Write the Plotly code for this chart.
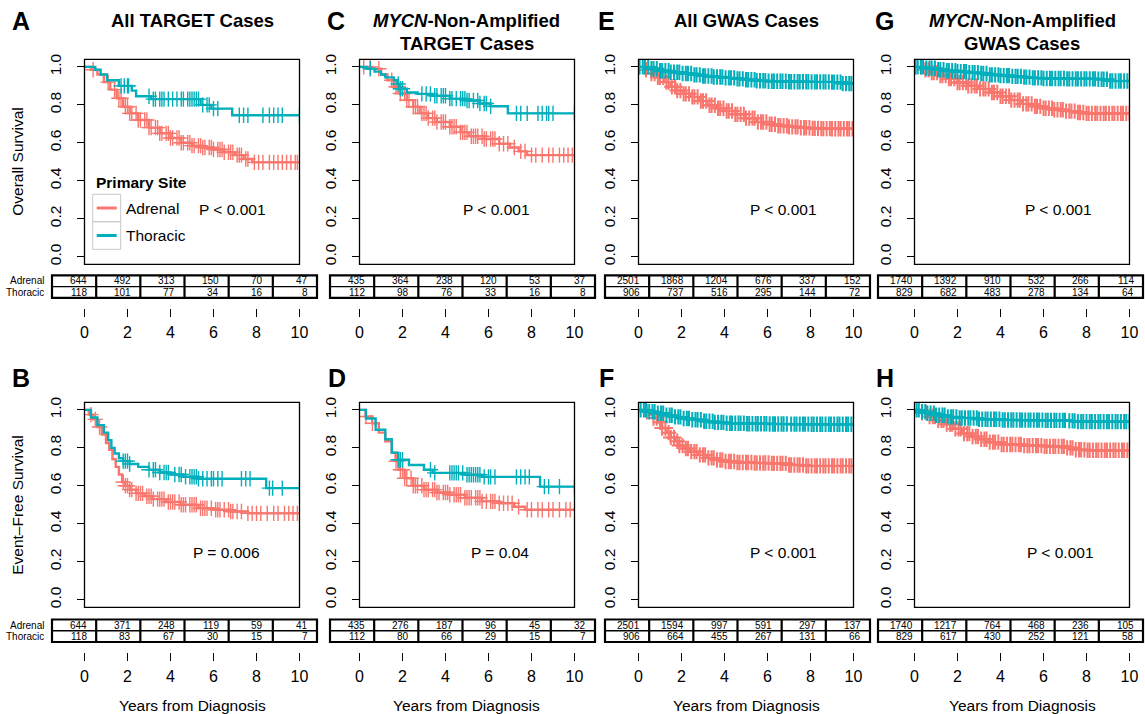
import numpy as np
import plotly.graph_objects as go

W, H = 1145, 714
FONT = "Liberation Sans, Arial, Helvetica, sans-serif"
RED = "#F8766D"
TEAL = "#00AFBB"

years = [0, 2, 4, 6, 8, 10]
year_labels = ["0", "2", "4", "6", "8", "10"]
surv_ticks = [0.0, 0.2, 0.4, 0.6, 0.8, 1.0]
surv_labels = ["0.0", "0.2", "0.4", "0.6", "0.8", "1.0"]
groups = ["Adrenal", "Thoracic"]

# ---------------- Panel A : OS, all TARGET ----------------
A_ad_t = [0, 0.3, 0.6, 0.9, 1.2, 1.5, 1.8, 2.1, 2.5, 3.0, 3.5, 4.0, 4.5, 5.0, 5.5, 6.0, 6.5, 7.0, 7.4, 7.8, 10]
A_ad_s = [1.0, 0.985, 0.96, 0.92, 0.88, 0.835, 0.79, 0.755, 0.72, 0.68, 0.65, 0.625, 0.60, 0.585, 0.575, 0.565, 0.55, 0.535, 0.515, 0.497, 0.497]
A_ad_c = [0.4, 1.1, 1.4, 1.6, 1.7, 1.9, 2.0, 2.1, 2.2, 2.4, 2.5, 2.6, 2.8, 2.9, 3.0, 3.1, 3.3, 3.4, 3.5, 3.6, 3.8, 3.9, 4.0, 4.1, 4.3, 4.4, 4.5, 4.6, 4.8, 4.9, 5.0, 5.1, 5.3, 5.4, 5.5, 5.6, 5.8, 5.9, 6.0, 6.2, 6.3, 6.4, 6.5, 6.7, 6.8, 6.9, 7.1, 7.2, 7.3, 7.5, 7.6, 7.9, 8.1, 8.3, 8.6, 8.8, 9.0, 9.2, 9.4, 9.6, 9.8, 9.9]
A_th_t = [0, 0.5, 0.75, 1.05, 1.6, 2.2, 2.4, 3.1, 5.4, 5.9, 6.87, 10]
A_th_s = [1.0, 0.985, 0.96, 0.93, 0.90, 0.875, 0.845, 0.83, 0.80, 0.78, 0.745, 0.745]
A_th_c = [1.7, 1.85, 2.0, 2.05, 3.0, 3.2, 3.3, 3.5, 3.6, 3.7, 3.9, 4.1, 4.3, 4.5, 4.6, 4.8, 4.9, 5.0, 5.1, 5.2, 5.3, 5.5, 5.7, 5.8, 6.0, 6.2, 7.2, 7.4, 7.6, 8.3, 8.6, 8.8, 9.0, 9.2, 10.0]
A_risk_ad = [644, 492, 313, 150, 70, 47]
A_risk_th = [118, 101, 77, 34, 16, 8]

# ---------------- Panel B : EFS, all TARGET ----------------
B_ad_t = [0, 0.2, 0.4, 0.6, 0.8, 1.0, 1.15, 1.3, 1.45, 1.6, 1.75, 1.9, 2.1, 2.4, 2.8, 3.2, 3.8, 4.5, 5.3, 6.0, 6.8, 7.6, 10]
B_ad_s = [1.0, 0.975, 0.95, 0.91, 0.87, 0.825, 0.79, 0.74, 0.70, 0.66, 0.62, 0.60, 0.58, 0.56, 0.545, 0.53, 0.515, 0.50, 0.482, 0.474, 0.465, 0.455, 0.455]
B_ad_c = [0.3, 0.5, 0.7, 1.8, 1.9, 2.0, 2.1, 2.2, 2.4, 2.5, 2.6, 2.7, 2.9, 3.0, 3.1, 3.2, 3.4, 3.5, 3.6, 3.7, 3.9, 4.0, 4.1, 4.2, 4.4, 4.5, 4.6, 4.7, 4.9, 5.0, 5.1, 5.2, 5.4, 5.5, 5.6, 5.7, 5.9, 6.1, 6.2, 6.3, 6.5, 6.7, 6.8, 6.9, 7.1, 7.3, 7.6, 7.8, 8.0, 8.2, 8.5, 8.8, 9.0, 9.3, 9.5, 9.7, 9.9]
B_th_t = [0, 0.3, 0.6, 0.9, 1.1, 1.25, 1.4, 1.6, 1.8, 2.1, 2.5, 3.0, 3.5, 4.0, 4.6, 5.3, 8.45, 10]
B_th_s = [1.0, 0.96, 0.92, 0.88, 0.84, 0.80, 0.77, 0.745, 0.73, 0.715, 0.70, 0.685, 0.67, 0.66, 0.648, 0.637, 0.588, 0.588]
B_th_c = [1.8, 1.9, 2.0, 2.1, 3.0, 3.2, 3.3, 3.5, 3.7, 3.8, 3.9, 4.2, 4.4, 4.5, 4.7, 4.9, 5.0, 5.1, 5.2, 5.3, 5.5, 5.7, 5.9, 6.0, 6.2, 6.4, 7.3, 7.5, 7.7, 8.6, 8.75, 9.2, 10.0]
B_risk_ad = [644, 371, 248, 119, 59, 41]
B_risk_th = [118, 83, 67, 30, 15, 7]

# ---------------- Panel C : OS, MYCN-NA TARGET ----------------
C_ad_t = [0, 0.6, 1.0, 1.3, 1.6, 1.9, 2.2, 2.5, 2.8, 3.2, 3.6, 4.2, 4.7, 5.1, 5.8, 6.5, 7.0, 7.4, 7.8, 10]
C_ad_s = [1.0, 0.99, 0.96, 0.93, 0.895, 0.86, 0.825, 0.79, 0.755, 0.73, 0.71, 0.685, 0.655, 0.635, 0.62, 0.595, 0.575, 0.555, 0.535, 0.535]
C_ad_c = [0.2, 0.5, 0.9, 1.5, 1.7, 1.8, 1.9, 2.1, 2.2, 2.3, 2.5, 2.6, 2.7, 2.9, 3.0, 3.1, 3.2, 3.4, 3.5, 3.6, 3.8, 3.9, 4.0, 4.2, 4.3, 4.4, 4.5, 4.7, 4.8, 4.9, 5.0, 5.2, 5.3, 5.4, 5.5, 5.7, 5.8, 5.9, 6.1, 6.2, 6.3, 6.5, 6.7, 6.9, 7.2, 7.5, 7.7, 8.0, 8.2, 8.5, 8.8, 9.0, 9.3, 9.5, 9.7, 9.9]
C_th_t = [0, 0.35, 0.7, 1.0, 1.2, 1.6, 1.75, 1.9, 2.2, 2.7, 3.4, 4.2, 5.0, 5.6, 6.1, 6.9, 10]
C_th_s = [1.0, 0.99, 0.975, 0.96, 0.945, 0.93, 0.91, 0.885, 0.865, 0.858, 0.848, 0.833, 0.823, 0.807, 0.793, 0.755, 0.755]
C_th_c = [0.5, 1.8, 1.9, 2.0, 2.9, 3.1, 3.3, 3.5, 3.6, 3.8, 3.9, 4.0, 4.2, 4.3, 4.5, 4.7, 4.8, 4.9, 5.0, 5.1, 5.3, 5.5, 5.6, 5.8, 5.9, 6.1, 7.3, 7.5, 7.8, 8.3, 8.5, 8.7, 8.8, 9.0, 10.0]
C_risk_ad = [435, 364, 238, 120, 53, 37]
C_risk_th = [112, 98, 76, 33, 16, 8]

# ---------------- Panel D : EFS, MYCN-NA TARGET ----------------
D_ad_t = [0, 0.28, 0.59, 0.9, 1.2, 1.5, 1.68, 1.83, 2.1, 2.5, 3.0, 3.6, 4.2, 4.9, 5.7, 6.5, 7.2, 7.7, 10]
D_ad_s = [1.0, 0.965, 0.93, 0.88, 0.835, 0.775, 0.73, 0.685, 0.64, 0.60, 0.58, 0.565, 0.553, 0.537, 0.518, 0.508, 0.49, 0.474, 0.474]
D_ad_c = [0.3, 0.6, 1.7, 1.8, 1.9, 2.0, 2.1, 2.2, 2.4, 2.5, 2.6, 2.7, 2.9, 3.0, 3.1, 3.2, 3.4, 3.5, 3.6, 3.7, 3.9, 4.0, 4.1, 4.2, 4.4, 4.5, 4.6, 4.7, 4.9, 5.0, 5.1, 5.2, 5.4, 5.5, 5.6, 5.7, 5.9, 6.1, 6.2, 6.3, 6.5, 6.7, 6.9, 7.1, 7.4, 7.8, 8.0, 8.3, 8.5, 8.8, 9.0, 9.3, 9.6, 9.8]
D_th_t = [0, 0.3, 0.75, 1.2, 1.5, 1.8, 2.3, 3.0, 3.4, 4.9, 5.7, 8.4, 10]
D_th_s = [1.0, 0.955, 0.895, 0.845, 0.775, 0.737, 0.71, 0.685, 0.668, 0.658, 0.647, 0.596, 0.596]
D_th_c = [1.8, 1.9, 2.0, 3.3, 3.5, 4.2, 4.3, 4.4, 4.5, 4.6, 4.8, 5.0, 5.1, 5.2, 5.3, 5.4, 5.5, 5.6, 5.8, 6.0, 6.1, 6.3, 7.3, 7.5, 7.7, 7.9, 8.6, 8.8, 9.3, 10.0]
D_risk_ad = [435, 276, 187, 96, 45, 32]
D_risk_th = [112, 80, 66, 29, 15, 7]

# ---------------- Panel E : OS, all GWAS ----------------
E_ad_t = [0, 0.3, 0.6, 0.9, 1.2, 1.5, 1.8, 2.1, 2.4, 2.8, 3.2, 3.6, 4.0, 4.5, 5.0, 5.5, 6.0, 6.5, 7.0, 7.5, 8.0, 8.5, 9.0, 10]
E_ad_s = [1.0, 0.985, 0.965, 0.945, 0.92, 0.895, 0.875, 0.858, 0.842, 0.82, 0.798, 0.782, 0.768, 0.75, 0.73, 0.71, 0.698, 0.69, 0.684, 0.679, 0.676, 0.675, 0.674, 0.674]
E_ad_c = [0.35, 0.6, 0.75, 0.9, 1.0, 1.15, 1.3, 1.4, 1.55, 1.7, 1.8, 1.95, 2.1, 2.2, 2.35, 2.5, 2.6, 2.75, 2.9, 3.0, 3.15, 3.3, 3.4, 3.55, 3.7, 3.8, 3.95, 4.1, 4.2, 4.35, 4.5, 4.6, 4.75, 4.9, 5.0, 5.15, 5.3, 5.4, 5.55, 5.7, 5.8, 5.95, 6.1, 6.2, 6.35, 6.5, 6.6, 6.75, 6.9, 7.0, 7.15, 7.3, 7.4, 7.55, 7.7, 7.8, 7.95, 8.1, 8.2, 8.35, 8.5, 8.6, 8.75, 8.9, 9.0, 9.15, 9.3, 9.4, 9.55, 9.7, 9.8, 9.95]
E_th_t = [0, 0.5, 1.0, 1.5, 2.0, 2.5, 3.0, 3.5, 4.0, 4.5, 5.0, 5.5, 6.0, 7.0, 8.0, 9.0, 9.5, 10]
E_th_s = [1.0, 0.99, 0.98, 0.972, 0.965, 0.958, 0.952, 0.947, 0.942, 0.937, 0.932, 0.927, 0.924, 0.922, 0.921, 0.92, 0.912, 0.912]
E_th_c = [0.05, 0.2, 0.3, 0.45, 0.6, 0.7, 0.85, 1.0, 1.1, 1.25, 1.4, 1.5, 1.65, 1.8, 1.9, 2.05, 2.2, 2.3, 2.45, 2.6, 2.7, 2.85, 3.0, 3.1, 3.25, 3.4, 3.5, 3.65, 3.8, 3.9, 4.05, 4.2, 4.3, 4.45, 4.6, 4.7, 4.85, 5.0, 5.1, 5.25, 5.4, 5.5, 5.65, 5.8, 5.9, 6.05, 6.2, 6.3, 6.45, 6.6, 6.7, 6.85, 7.0, 7.1, 7.25, 7.4, 7.5, 7.65, 7.8, 7.9, 8.05, 8.2, 8.3, 8.45, 8.6, 8.7, 8.85, 9.0, 9.1, 9.25, 9.4, 9.5, 9.65, 9.8, 9.9]
E_risk_ad = [2501, 1868, 1204, 676, 337, 152]
E_risk_th = [906, 737, 516, 295, 144, 72]

# ---------------- Panel F : EFS, all GWAS ----------------
F_ad_t = [0, 0.3, 0.5, 0.7, 0.9, 1.1, 1.3, 1.5, 1.7, 1.9, 2.1, 2.4, 2.8, 3.2, 3.6, 4.0, 4.6, 5.4, 6.2, 7.0, 7.7, 10]
F_ad_s = [1.0, 0.99, 0.975, 0.957, 0.935, 0.905, 0.88, 0.855, 0.835, 0.812, 0.797, 0.78, 0.763, 0.747, 0.736, 0.728, 0.723, 0.72, 0.718, 0.71, 0.705, 0.705]
F_ad_c = [0.4, 0.7, 0.85, 1.0, 1.1, 1.25, 1.4, 1.5, 1.65, 1.8, 1.9, 2.05, 2.2, 2.3, 2.45, 2.6, 2.7, 2.85, 3.0, 3.1, 3.25, 3.4, 3.5, 3.65, 3.8, 3.9, 4.05, 4.2, 4.3, 4.45, 4.6, 4.7, 4.85, 5.0, 5.1, 5.25, 5.4, 5.5, 5.65, 5.8, 5.9, 6.05, 6.2, 6.3, 6.45, 6.6, 6.7, 6.85, 7.0, 7.1, 7.25, 7.4, 7.5, 7.65, 7.8, 7.9, 8.05, 8.2, 8.3, 8.45, 8.6, 8.7, 8.85, 9.0, 9.1, 9.25, 9.4, 9.5, 9.65, 9.8, 9.9]
F_th_t = [0, 0.4, 0.8, 1.2, 1.6, 2.0, 2.5, 3.0, 3.5, 4.0, 5.0, 6.0, 7.0, 8.0, 10]
F_th_s = [1.0, 0.99, 0.982, 0.972, 0.963, 0.955, 0.948, 0.94, 0.934, 0.93, 0.927, 0.926, 0.925, 0.924, 0.924]
F_th_c = [0.1, 0.25, 0.35, 0.5, 0.65, 0.75, 0.9, 1.05, 1.15, 1.3, 1.45, 1.55, 1.7, 1.85, 1.95, 2.1, 2.25, 2.35, 2.5, 2.65, 2.75, 2.9, 3.05, 3.15, 3.3, 3.45, 3.55, 3.7, 3.85, 3.95, 4.1, 4.25, 4.35, 4.5, 4.65, 4.75, 4.9, 5.05, 5.15, 5.3, 5.45, 5.55, 5.7, 5.85, 5.95, 6.1, 6.25, 6.35, 6.5, 6.65, 6.75, 6.9, 7.1, 7.25, 7.35, 7.5, 7.65, 7.75, 7.9, 8.05, 8.15, 8.3, 8.45, 8.55, 8.7, 8.85, 8.95, 9.1, 9.25, 9.35, 9.5, 9.65, 9.75, 9.9]
F_risk_ad = [2501, 1594, 997, 591, 297, 137]
F_risk_th = [906, 664, 455, 267, 131, 66]

# ---------------- Panel G : OS, MYCN-NA GWAS ----------------
G_ad_t = [0, 0.4, 0.8, 1.2, 1.6, 2.0, 2.5, 3.0, 3.5, 4.0, 4.5, 5.0, 5.5, 6.0, 6.5, 7.0, 7.5, 8.0, 10]
G_ad_s = [1.0, 0.985, 0.97, 0.955, 0.938, 0.918, 0.9, 0.884, 0.865, 0.845, 0.825, 0.805, 0.792, 0.782, 0.774, 0.767, 0.76, 0.755, 0.755]
G_ad_c = [0.3, 0.5, 0.65, 0.8, 0.9, 1.05, 1.2, 1.3, 1.45, 1.6, 1.7, 1.85, 2.0, 2.1, 2.25, 2.4, 2.5, 2.65, 2.8, 2.9, 3.05, 3.2, 3.3, 3.45, 3.6, 3.7, 3.85, 4.0, 4.1, 4.25, 4.4, 4.5, 4.65, 4.8, 4.9, 5.05, 5.2, 5.3, 5.45, 5.6, 5.7, 5.85, 6.0, 6.1, 6.25, 6.4, 6.5, 6.65, 6.8, 6.9, 7.05, 7.2, 7.3, 7.45, 7.6, 7.7, 7.85, 8.0, 8.1, 8.25, 8.4, 8.5, 8.65, 8.8, 8.9, 9.05, 9.2, 9.3, 9.45, 9.6, 9.7, 9.85, 10.0]
G_th_t = [0, 0.5, 1.0, 1.5, 2.0, 2.5, 3.0, 3.5, 4.0, 4.5, 5.0, 5.5, 6.0, 7.0, 8.5, 9.0, 10]
G_th_s = [1.0, 0.993, 0.985, 0.98, 0.975, 0.97, 0.965, 0.958, 0.954, 0.95, 0.946, 0.942, 0.939, 0.937, 0.935, 0.926, 0.926]
G_th_c = [0.05, 0.15, 0.3, 0.4, 0.55, 0.7, 0.8, 0.95, 1.1, 1.2, 1.35, 1.5, 1.6, 1.75, 1.9, 2.0, 2.15, 2.3, 2.4, 2.55, 2.7, 2.8, 2.95, 3.1, 3.2, 3.35, 3.5, 3.6, 3.75, 3.9, 4.0, 4.15, 4.3, 4.4, 4.55, 4.7, 4.8, 4.95, 5.1, 5.2, 5.35, 5.5, 5.6, 5.75, 5.9, 6.0, 6.15, 6.3, 6.4, 6.55, 6.7, 6.8, 6.95, 7.1, 7.2, 7.35, 7.5, 7.6, 7.75, 7.9, 8.0, 8.15, 8.3, 8.4, 8.55, 8.7, 8.8, 8.95, 9.1, 9.2, 9.35, 9.5, 9.6, 9.75, 9.9]
G_risk_ad = [1740, 1392, 910, 532, 266, 114]
G_risk_th = [829, 682, 483, 278, 134, 64]

# ---------------- Panel H : EFS, MYCN-NA GWAS ----------------
H_ad_t = [0, 0.3, 0.6, 1.0, 1.4, 1.8, 2.2, 2.6, 3.0, 3.5, 4.0, 5.0, 6.0, 7.0, 7.5, 8.0, 10]
H_ad_s = [1.0, 0.985, 0.965, 0.945, 0.925, 0.9, 0.875, 0.86, 0.845, 0.83, 0.818, 0.812, 0.808, 0.8, 0.79, 0.787, 0.787]
H_ad_c = [0.35, 0.55, 0.7, 0.85, 0.95, 1.1, 1.25, 1.35, 1.5, 1.65, 1.75, 1.9, 2.05, 2.15, 2.3, 2.45, 2.55, 2.7, 2.85, 2.95, 3.1, 3.25, 3.35, 3.5, 3.65, 3.75, 3.9, 4.05, 4.15, 4.3, 4.45, 4.55, 4.7, 4.85, 4.95, 5.1, 5.25, 5.35, 5.5, 5.65, 5.75, 5.9, 6.05, 6.15, 6.3, 6.45, 6.55, 6.7, 6.85, 6.95, 7.1, 7.25, 7.35, 7.5, 7.65, 7.75, 7.9, 8.05, 8.15, 8.3, 8.45, 8.55, 8.7, 8.85, 8.95, 9.1, 9.25, 9.35, 9.5, 9.65, 9.75, 9.9]
H_th_t = [0, 0.3, 0.6, 1.0, 1.5, 2.0, 3.0, 4.0, 5.0, 6.0, 7.2, 7.6, 10]
H_th_s = [1.0, 0.99, 0.982, 0.972, 0.963, 0.957, 0.951, 0.947, 0.946, 0.945, 0.942, 0.938, 0.938]
H_th_c = [0.1, 0.2, 0.35, 0.5, 0.6, 0.75, 0.9, 1.0, 1.15, 1.3, 1.4, 1.55, 1.7, 1.8, 1.95, 2.1, 2.2, 2.35, 2.5, 2.6, 2.75, 2.9, 3.0, 3.15, 3.3, 3.4, 3.55, 3.7, 3.8, 3.95, 4.1, 4.2, 4.35, 4.5, 4.6, 4.75, 4.9, 5.0, 5.15, 5.3, 5.4, 5.55, 5.7, 5.8, 5.95, 6.1, 6.2, 6.35, 6.5, 6.6, 6.75, 6.9, 7.0, 7.2, 7.35, 7.45, 7.6, 7.75, 7.85, 8.0, 8.15, 8.25, 8.4, 8.55, 8.65, 8.8, 8.95, 9.05, 9.2, 9.35, 9.45, 9.6, 9.75, 9.85, 10.0]
H_risk_ad = [1740, 1217, 764, 468, 236, 105]
H_risk_th = [829, 617, 430, 252, 121, 58]

# ---------------- layout geometry (pixels) ----------------
col_box_left = [84.5, 359.5, 638.5, 914.5]
BOX_W = 215
row_box_top = [59.3, 402.3]
BOX_H = 205
col_table_left = [52, 330, 605, 878]
TABLE_W = 265
row_table_top = [275.3, 619.5]
TABLE_H = 22.5
row_tick_top = [308, 652]


def fx(px):
    return px / W


def fy(py):
    return 1 - py / H


panels = [
    ("A", 0, 0, ["All TARGET Cases"], A_ad_t, A_ad_s, A_ad_c, A_th_t, A_th_s, A_th_c, A_risk_ad, A_risk_th, "P < 0.001", 6.88, False),
    ("B", 0, 1, [], B_ad_t, B_ad_s, B_ad_c, B_th_t, B_th_s, B_th_c, B_risk_ad, B_risk_th, "P = 0.006", 6.6, False),
    ("C", 1, 0, ["<i>MYCN</i>-Non-Amplified", "TARGET Cases"], C_ad_t, C_ad_s, C_ad_c, C_th_t, C_th_s, C_th_c, C_risk_ad, C_risk_th, "P < 0.001", 6.35, False),
    ("D", 1, 1, [], D_ad_t, D_ad_s, D_ad_c, D_th_t, D_th_s, D_th_c, D_risk_ad, D_risk_th, "P = 0.04", 6.53, False),
    ("E", 2, 0, ["All GWAS Cases"], E_ad_t, E_ad_s, E_ad_c, E_th_t, E_th_s, E_th_c, E_risk_ad, E_risk_th, "P < 0.001", 6.75, True),
    ("F", 2, 1, [], F_ad_t, F_ad_s, F_ad_c, F_th_t, F_th_s, F_th_c, F_risk_ad, F_risk_th, "P < 0.001", 6.74, True),
    ("G", 3, 0, ["<i>MYCN</i>-Non-Amplified", "GWAS Cases"], G_ad_t, G_ad_s, G_ad_c, G_th_t, G_th_s, G_th_c, G_risk_ad, G_risk_th, "P < 0.001", 6.7, True),
    ("H", 3, 1, [], H_ad_t, H_ad_s, H_ad_c, H_th_t, H_th_s, H_th_c, H_risk_ad, H_risk_th, "P < 0.001", 6.77, True),
]
letter_pos = {"A": (21, 21), "C": (336, 21), "E": (606.5, 21), "G": (884.5, 21),
              "B": (20.5, 378), "D": (336.5, 378), "F": (606.5, 378), "H": (885, 378)}


def axkey(kind, n):
    return f"{kind}axis" if n == 1 else f"{kind}axis{n}"


def axref(kind, n):
    return kind if n == 1 else f"{kind}{n}"


def step_at(t_arr, s_arr, times):
    t_arr = np.asarray(t_arr, float)
    s_arr = np.asarray(s_arr, float)
    idx = np.searchsorted(t_arr, np.asarray(times, float), side="right") - 1
    idx = np.clip(idx, 0, len(s_arr) - 1)
    return s_arr[idx]


fig = go.Figure()
layout = dict(
    width=W, height=H,
    margin=dict(l=0, r=0, t=0, b=0),
    paper_bgcolor="white", plot_bgcolor="white",
    font=dict(family=FONT, color="black", size=15),
    showlegend=False,
    hovermode=False,
)
shapes = []
annotations = []

LINE_W = 2.4
TPAD_PX = 3  # padding so table borders are not clipped

for p, (letter, col, row, title, ad_t, ad_s, ad_c, th_t, th_s, th_c, r_ad, r_th, ptxt, px_, dense) in enumerate(panels):
    n = 2 * p + 1
    m = 2 * p + 2
    bl = col_box_left[col]
    bt = row_box_top[row]
    layout[axkey("x", n)] = dict(
        domain=[fx(bl), fx(bl + BOX_W)], range=[0, 10], anchor="free",
        position=fy(row_tick_top[row]), showline=False, showgrid=False, zeroline=False,
        ticks="outside", ticklen=8, tickwidth=1.2, tickcolor="black",
        tickvals=years, ticktext=year_labels, tickfont=dict(size=16, family=FONT),
        ticklabelstandoff=2, automargin=False,
    )
    layout[axkey("y", n)] = dict(
        domain=[fy(bt + BOX_H), fy(bt)], range=[-0.04, 1.04], anchor=axref("x", n),
        showline=False, showgrid=False, zeroline=False,
        ticks="outside", ticklen=7, tickwidth=1.2, tickcolor="black",
        tickvals=surv_ticks, ticktext=surv_labels, tickangle=-90,
        tickfont=dict(size=15.5, family=FONT), ticklabelstandoff=9, automargin=False,
    )
    shapes.append(dict(type="rect", xref=f"{axref('x', n)} domain", yref=f"{axref('y', n)} domain",
                       x0=0, x1=1, y0=0, y1=1, line=dict(color="black", width=1.3), layer="above"))
    msize = 11
    mwidth = 2.0 if dense else 1.4
    for t_arr, s_arr, c_arr, color, name in [(ad_t, ad_s, ad_c, RED, groups[0]), (th_t, th_s, th_c, TEAL, groups[1])]:
        fig.add_trace(go.Scatter(x=t_arr, y=s_arr, mode="lines", line=dict(color=color, width=LINE_W, shape="hv"),
                                 xaxis=axref("x", n), yaxis=axref("y", n), name=name, hoverinfo="skip"))
        fig.add_trace(go.Scatter(x=c_arr, y=step_at(t_arr, s_arr, c_arr), mode="markers",
                                 marker=dict(symbol="cross-thin", size=msize, line=dict(color=color, width=mwidth)),
                                 xaxis=axref("x", n), yaxis=axref("y", n), name=name, hoverinfo="skip"))
    annotations.append(dict(text=ptxt, x=px_, y=0.25, xref=axref("x", n), yref=axref("y", n),
                            showarrow=False, font=dict(size=15.5), xanchor="center", yanchor="middle"))
    # risk table axes
    tl = col_table_left[col]
    tt = row_table_top[row]
    ux = TABLE_W / 12.0
    uy = TABLE_H / 2.0
    d_lo = tl - TPAD_PX
    d_hi = min(tl + TABLE_W + TPAD_PX, W)
    layout[axkey("x", m)] = dict(domain=[fx(d_lo), fx(d_hi)],
                                 range=[-1 - TPAD_PX / ux, -1 + (d_hi - tl) / ux],
                                 anchor=axref("y", m), visible=False, fixedrange=True)
    layout[axkey("y", m)] = dict(domain=[fy(tt + TABLE_H + TPAD_PX), fy(tt - TPAD_PX)],
                                 range=[-TPAD_PX / uy, 2 + TPAD_PX / uy],
                                 anchor=axref("x", m), visible=False, fixedrange=True)
    xr, yr = axref("x", m), axref("y", m)
    shapes.append(dict(type="rect", xref=xr, yref=yr, x0=-1, x1=11, y0=0, y1=2, line=dict(color="black", width=2.2)))
    for k in range(5):
        xv = years[k] + 1
        shapes.append(dict(type="line", xref=xr, yref=yr, x0=xv, x1=xv, y0=0, y1=2, line=dict(color="black", width=2.2)))
    shapes.append(dict(type="line", xref=xr, yref=yr, x0=-1, x1=11, y0=1, y1=1, line=dict(color="black", width=1.3)))
    for k, yv in enumerate(years):
        annotations.append(dict(text=str(r_ad[k]), x=yv + 0.62, y=1.5, xref=xr, yref=yr, showarrow=False,
                                xanchor="right", yanchor="middle", font=dict(size=10), borderpad=0))
        annotations.append(dict(text=str(r_th[k]), x=yv + 0.62, y=0.5, xref=xr, yref=yr, showarrow=False,
                                xanchor="right", yanchor="middle", font=dict(size=10), borderpad=0))
    if col == 0:
        for gname, yv in [(groups[0], 1.5), (groups[1], 0.5)]:
            annotations.append(dict(text=gname, x=fx(44.5), y=yv, xref="paper", yref=yr, showarrow=False,
                                    xanchor="right", yanchor="middle", font=dict(size=10), borderpad=0))
    lx, ly = letter_pos[letter]
    annotations.append(dict(text=f"<b>{letter}</b>", x=fx(lx), y=fy(ly), xref="paper", yref="paper",
                            showarrow=False, xanchor="center", yanchor="middle", font=dict(size=25)))
    for i, line in enumerate(title):
        annotations.append(dict(text=f"<b>{line}</b>", x=fx(bl + BOX_W / 2), y=fy(20.7 + 22.6 * i),
                                xref="paper", yref="paper", showarrow=False, xanchor="center",
                                yanchor="middle", font=dict(size=18.5)))
    if col == 0:
        ytitle = "Overall Survival" if row == 0 else "Event\u2013Free Survival"
        annotations.append(dict(text=ytitle, x=fx(18), y=fy(bt + BOX_H / 2), xref="paper", yref="paper",
                                showarrow=False, textangle=-90, xanchor="center", yanchor="middle",
                                font=dict(size=15.5)))
    if row == 1:
        annotations.append(dict(text="Years from Diagnosis", x=fx(bl + BOX_W / 2), y=fy(705), xref="paper",
                                yref="paper", showarrow=False, xanchor="center", yanchor="middle",
                                font=dict(size=15.5)))

# legend in panel A (drawn by hand to mimic the R legend)
LEG_X0, LEG_X1 = 92.7, 120.7
leg_rows = [(194.3, 221.7, RED, groups[0]), (221.7, 249.3, TEAL, groups[1])]
annotations.append(dict(text="<b>Primary Site</b>", x=fx(94), y=fy(183), xref="paper", yref="paper",
                        showarrow=False, xanchor="left", yanchor="middle", font=dict(size=15.5)))
for y0, y1, color, gname in leg_rows:
    shapes.append(dict(type="rect", xref="paper", yref="paper", x0=fx(LEG_X0), x1=fx(LEG_X1), y0=fy(y1), y1=fy(y0),
                       line=dict(color="#C8C8C8", width=1)))
    ym = (y0 + y1) / 2
    shapes.append(dict(type="line", xref="paper", yref="paper", x0=fx(96.7), x1=fx(116.7), y0=fy(ym), y1=fy(ym),
                       line=dict(color=color, width=3)))
    annotations.append(dict(text=gname, x=fx(124.3), y=fy(ym), xref="paper", yref="paper", showarrow=False,
                            xanchor="left", yanchor="middle", font=dict(size=15.5)))

layout["shapes"] = shapes
layout["annotations"] = annotations
fig.update_layout(**layout)
fig.write_html("out.html", config={"displayModeBar": False},
               post_script="document.body.style.margin='0px';document.body.style.padding='0px';")
